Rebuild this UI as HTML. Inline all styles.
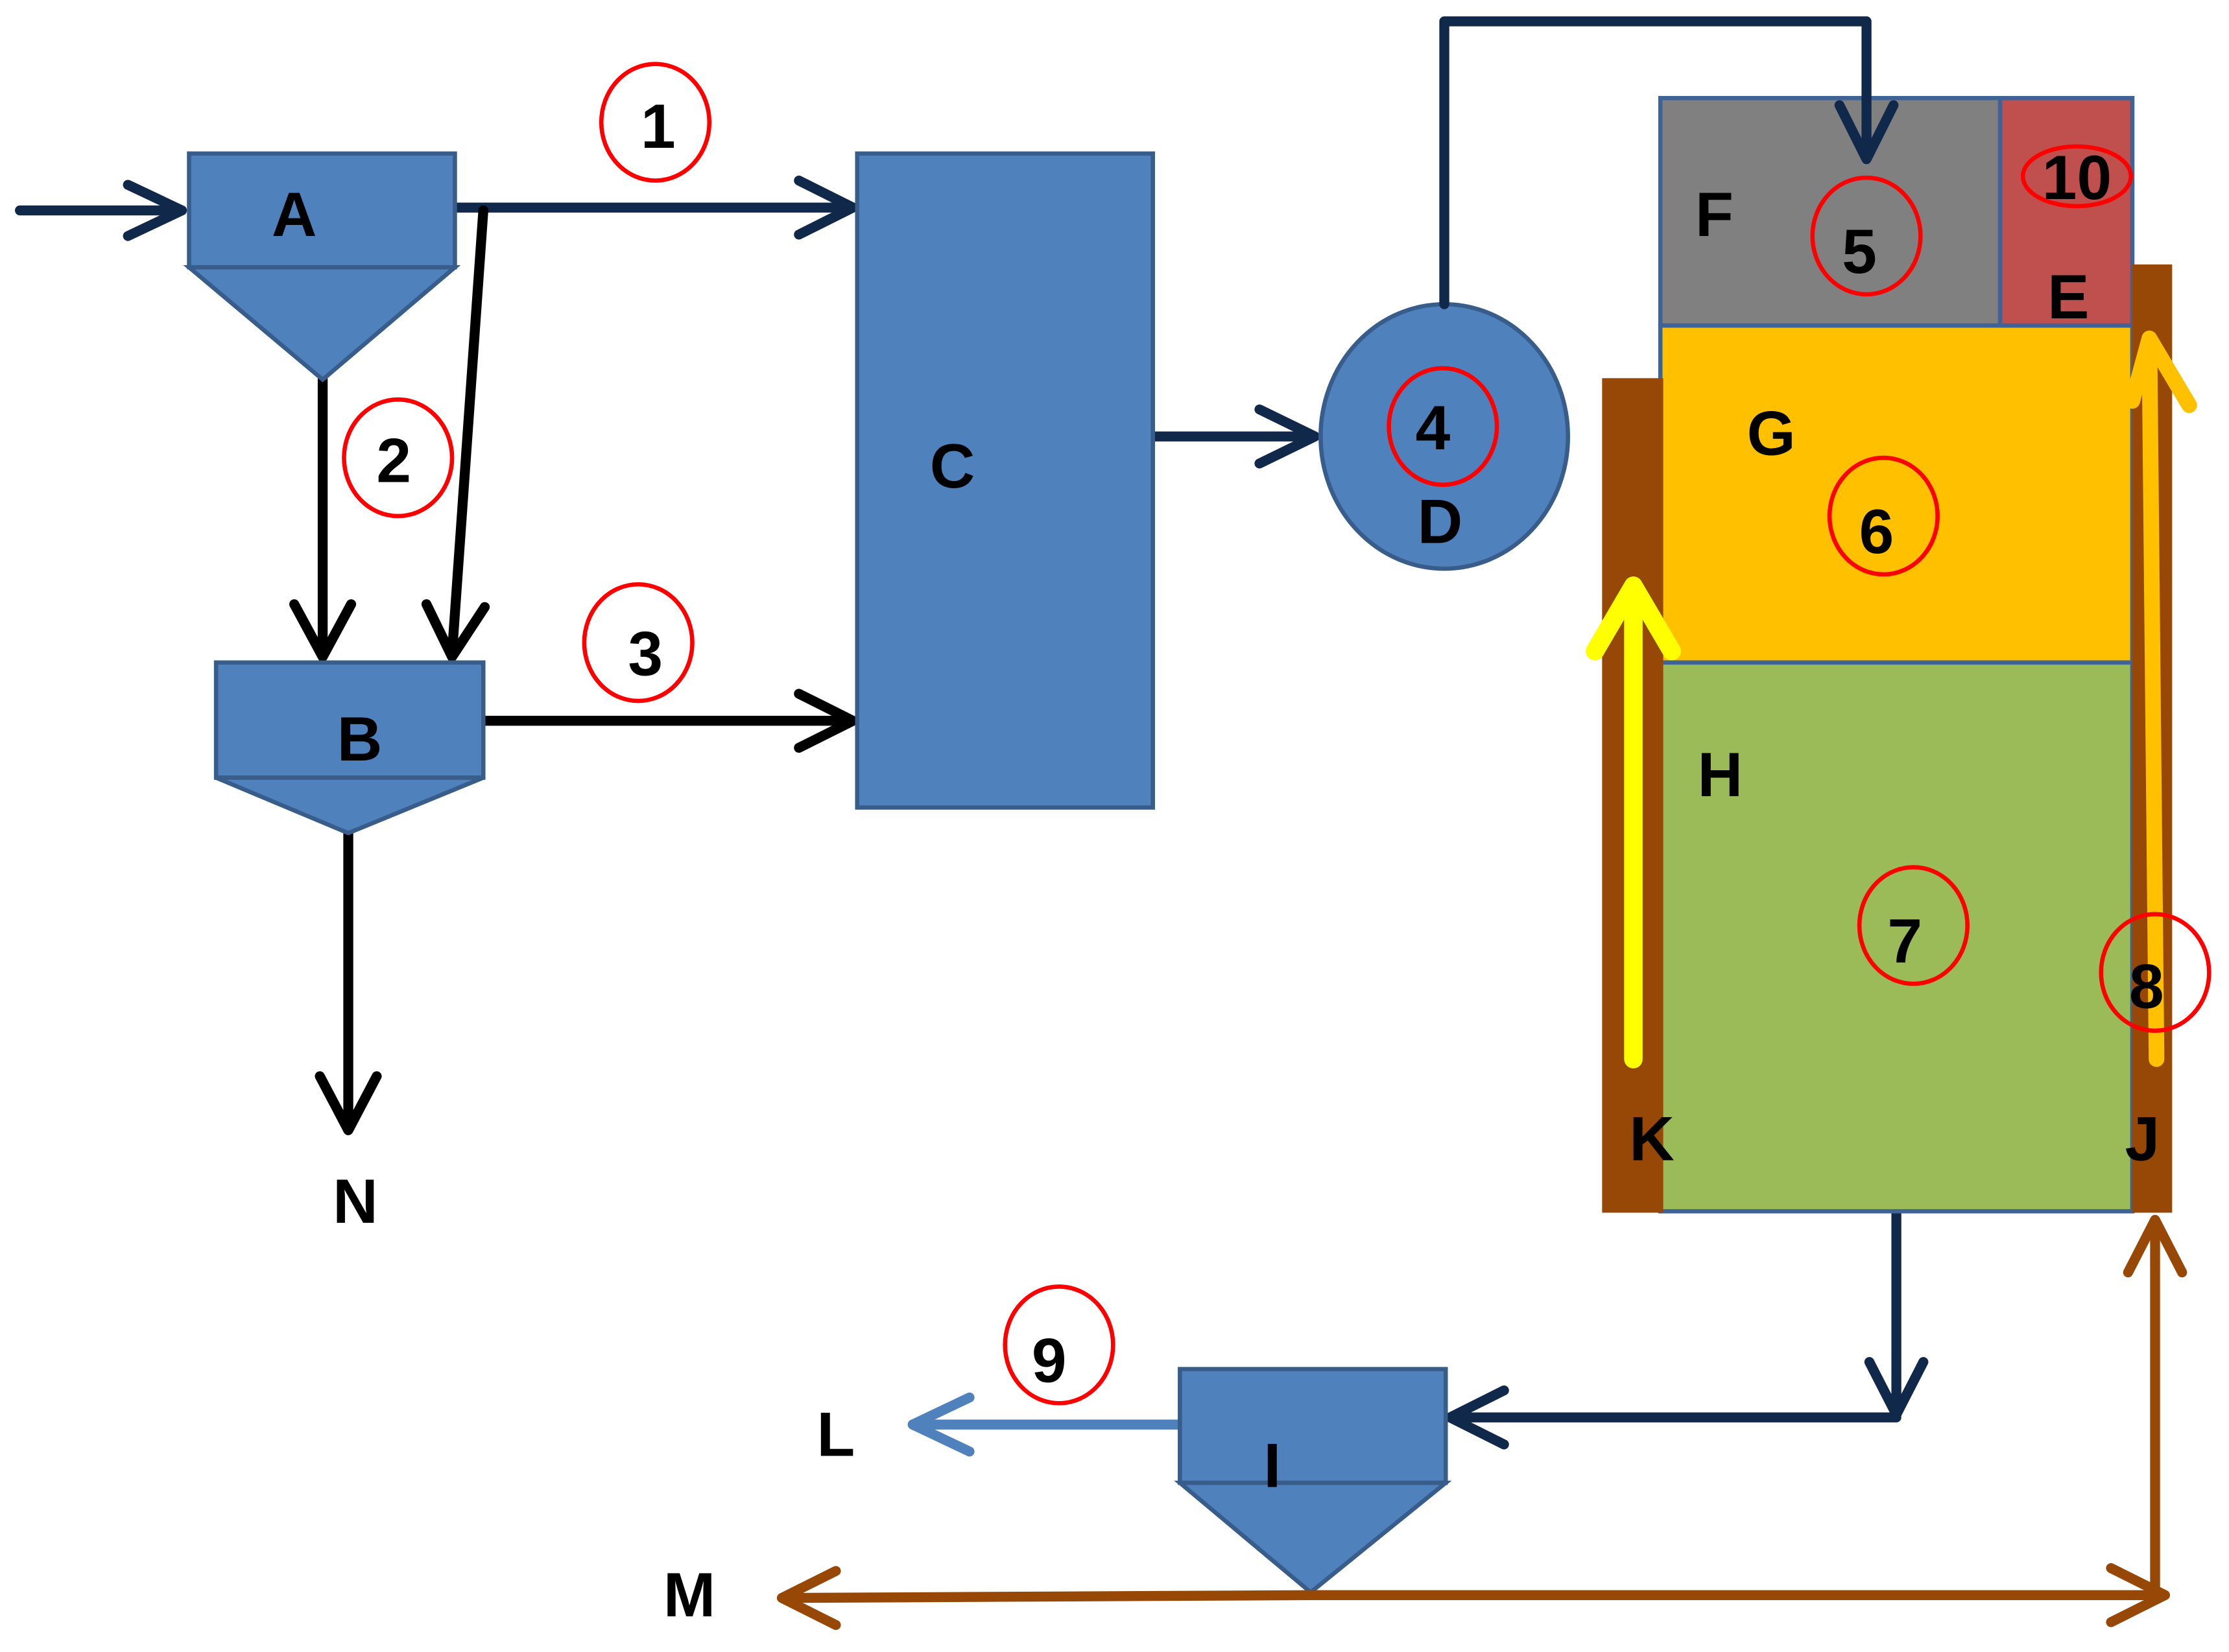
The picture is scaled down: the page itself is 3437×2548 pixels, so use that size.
<!DOCTYPE html>
<html><head><meta charset="utf-8"><style>html,body{margin:0;padding:0;background:#fff}svg{display:block}text{font-family:"Liberation Sans",sans-serif;font-weight:bold;font-size:44px;text-anchor:middle;fill:#000}</style></head>
<body>
<svg width="3437" height="2548" viewBox="0 0 1568 1162" preserveAspectRatio="none" xmlns="http://www.w3.org/2000/svg">
<g fill="none" stroke-linecap="round" stroke-linejoin="round">
<g stroke="#10284a" stroke-width="7">
<path d="M14 148H126M90 130L128 148L90 166"/>
<path d="M320 146H598M562 127L600 146L562 165"/>
<path d="M811 307H922M886 288L925 307L886 326"/>
<path d="M1334 852V995M1315 958L1334 995L1353 958"/>
<path d="M1334 997H1024M1058 978L1020 997L1058 1016"/>
</g>
<g stroke="#000" stroke-width="7">
<path d="M340 148L318 460M300 425L318 462L341 427"/>
<path d="M227 267V460M207 425L227 462L247 425"/>
<path d="M340 507H598M562 488L600 507L562 526"/>
<path d="M245 586V793M225 757L245 795L265 757"/>
</g>
<g stroke="#4f81bd" stroke-width="7"><path d="M830 1002H645M682 983L642 1002L682 1021"/></g>
</g>
<g stroke="#385d8a" stroke-width="3" fill="#4f81bd">
<rect x="133" y="108" width="187" height="80"/><path d="M133 188H320L227 267Z"/>
<rect x="152" y="466" width="188" height="81"/><path d="M152 547H340L245 586Z"/>
<rect x="603" y="108" width="208" height="460"/>
<ellipse cx="1016" cy="307" rx="87" ry="93"/>
<rect x="830" y="963" width="187" height="80"/><path d="M830 1043H1017L922 1120Z"/>
</g>
<g stroke="#3e6396" stroke-width="3">
<rect x="1168" y="69" width="239" height="160" fill="#808080"/>
<rect x="1407" y="69" width="93" height="160" fill="#c0504d"/>
<rect x="1168" y="229" width="332" height="237" fill="#ffc000"/>
<rect x="1168" y="466" width="332" height="386" fill="#9bbb59"/>
</g>
<rect x="1127" y="266" width="43" height="587" fill="#974706"/>
<rect x="1500" y="186" width="28" height="667" fill="#974706"/>
<g fill="none" stroke-linecap="round" stroke-linejoin="round">
<path d="M1016 214V15H1313V110M1294 74L1313 112L1332 74" stroke="#10284a" stroke-width="7"/>
<path d="M1149 745V412M1122 458L1149 412L1176 458" stroke="#ffff00" stroke-width="13"/>
<path d="M1517 745L1512 238M1500 282L1512 238L1540 285" stroke="#ffc000" stroke-width="11"/>
<g stroke="#974706" stroke-width="7">
<path d="M922 1122H1520M1485 1103L1523 1122L1485 1141"/>
<path d="M922 1122L552 1124M588 1105L550 1124L588 1143"/>
<path d="M1516 1122V860M1497 895L1516 858L1535 895"/>
</g>
</g>
<g fill="none" stroke="#ff0000" stroke-width="3">
<ellipse cx="461" cy="86" rx="38" ry="41"/>
<ellipse cx="280" cy="322" rx="38" ry="41"/>
<ellipse cx="449" cy="452" rx="38" ry="41"/>
<ellipse cx="1015" cy="300" rx="38" ry="41"/>
<ellipse cx="1313" cy="166" rx="38" ry="41"/>
<ellipse cx="1461" cy="124" rx="38" ry="21"/>
<ellipse cx="1325" cy="363" rx="38" ry="41"/>
<ellipse cx="1346" cy="651" rx="38" ry="41"/>
<ellipse cx="1516" cy="684" rx="38" ry="41"/>
<ellipse cx="745" cy="946" rx="38" ry="41"/>
</g>
<g>
<text x="207" y="166">A</text><text x="253" y="535">B</text><text x="670" y="343">C</text>
<text x="1013" y="382">D</text><text x="1455" y="224">E</text><text x="1206" y="166">F</text>
<text x="1246" y="320">G</text><text x="1210" y="560">H</text><text x="895" y="1046">I</text>
<text x="1507" y="816">J</text><text x="1162" y="816">K</text><text x="588" y="1024">L</text>
<text x="485" y="1137">M</text><text x="250" y="860">N</text>
<text x="463" y="104">1</text><text x="277" y="339">2</text><text x="454" y="475">3</text>
<text x="1008" y="316">4</text><text x="1308" y="192">5</text><text x="1320" y="389">6</text>
<text x="1340" y="677">7</text><text x="1510" y="709">8</text><text x="738" y="972">9</text>
<text x="1461" y="140">10</text>
</g>
</svg>
</body></html>
